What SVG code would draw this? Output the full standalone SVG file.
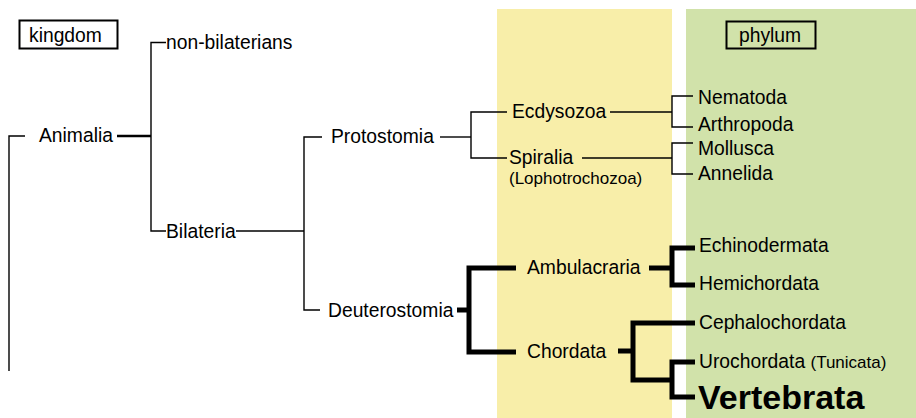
<svg xmlns="http://www.w3.org/2000/svg" width="916" height="418" viewBox="0 0 916 418">
<style>
text{font-family:"Liberation Sans",Arial,sans-serif;font-size:19.3px;fill:#000}
.sm{font-size:17px}
.big{font-size:34px;font-weight:bold}
.thin{fill:none;stroke:#000;stroke-width:1.4}
.mid{fill:none;stroke:#000;stroke-width:2.5}
.thick{fill:none;stroke:#000;stroke-width:5}
.box{fill:none;stroke:#000;stroke-width:2}
</style>
<g id="bands">
<rect x="497" y="9" width="175" height="409" fill="#F8EEA9"/>
<rect x="686" y="9" width="230" height="409" fill="#D1E2AA"/>
</g>
<g id="connectors">
<path class="thin" d="M9,371 V136 H25"/>
<path class="mid" d="M117,136 H151"/>
<path class="thin" d="M166,42.5 H151 V231 H166"/>
<path class="thin" d="M236,231 H304"/>
<path class="thin" d="M322,137 H304 V310 H320"/>
<path class="thin" d="M440,137 H471"/>
<path class="thin" d="M507,112 H471 V158 H507"/>
<path class="thin" d="M610,112 H672"/>
<path class="thin" d="M582,158 H672"/>
<path class="thin" d="M693,96 H672 V127 H693"/>
<path class="thin" d="M693,143 H672 V174 H693"/>
<path class="thick" d="M457,310 H469"/>
<path class="thick" d="M516,268 H469 V352 H516"/>
<path class="thick" d="M649,268 H672"/>
<path class="thick" d="M695,248 H672 V285 H695"/>
<path class="thick" d="M618,351 H633"/>
<path class="thick" d="M695,323 H633 V380 H672"/>
<path class="thick" d="M695,362 H672 V397 H695"/>
</g>
<g id="kingdom"><rect class="box" x="19.5" y="20.5" width="98" height="28"/><text x="29" y="42">kingdom</text></g>
<g id="phylum"><rect class="box" x="726.5" y="21.5" width="89" height="27"/><text x="739" y="42">phylum</text></g>
<g id="animalia"><text x="39" y="142">Animalia</text></g>
<g id="non-bilaterians"><text x="166" y="49">non-bilaterians</text></g>
<g id="bilateria"><text x="166" y="238">Bilateria</text></g>
<g id="protostomia"><text x="331" y="143">Protostomia</text></g>
<g id="deuterostomia"><text x="328" y="317">Deuterostomia</text></g>
<g id="ecdysozoa"><text x="512" y="118">Ecdysozoa</text></g>
<g id="spiralia"><text x="509" y="164">Spiralia</text><text class="sm" x="509" y="184">(Lophotrochozoa)</text></g>
<g id="ambulacraria"><text x="527" y="274">Ambulacraria</text></g>
<g id="chordata"><text x="527" y="358">Chordata</text></g>
<g id="nematoda"><text x="698" y="104">Nematoda</text></g>
<g id="arthropoda"><text x="698" y="131">Arthropoda</text></g>
<g id="mollusca"><text x="698" y="155">Mollusca</text></g>
<g id="annelida"><text x="698" y="180">Annelida</text></g>
<g id="echinodermata"><text x="699" y="252">Echinodermata</text></g>
<g id="hemichordata"><text x="699" y="290">Hemichordata</text></g>
<g id="cephalochordata"><text x="699" y="329">Cephalochordata</text></g>
<g id="urochordata"><text x="699" y="368">Urochordata <tspan class="sm">(Tunicata)</tspan></text></g>
<g id="vertebrata"><text class="big" x="698" y="409">Vertebrata</text></g>
</svg>
